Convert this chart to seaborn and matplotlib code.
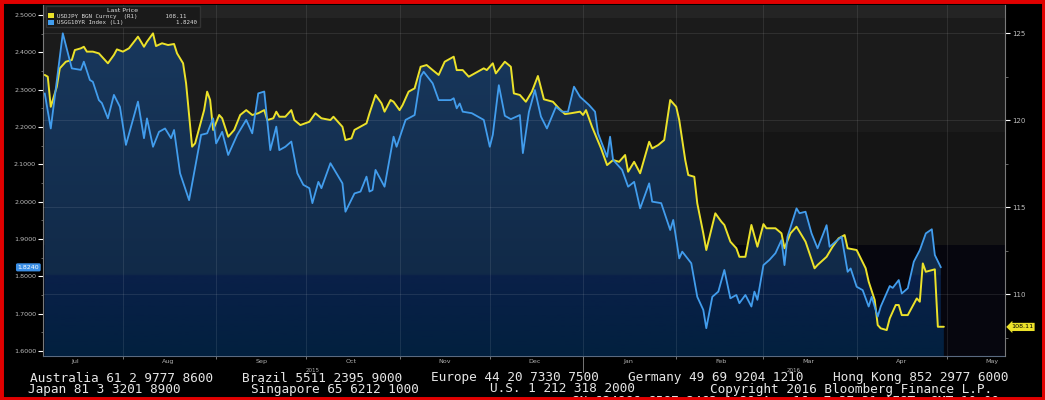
import numpy as np
import pandas as pd
import matplotlib
matplotlib.use("Agg")
import matplotlib.pyplot as plt
import matplotlib.dates as mdates
from matplotlib.colors import LinearSegmentedColormap
from matplotlib.patches import Patch, Rectangle
from matplotlib.ticker import FixedLocator, MultipleLocator, FormatStrFormatter
from matplotlib.transforms import blended_transform_factory
import seaborn as sns

sns.set_style("dark")
plt.rcParams["font.family"] = ["DejaVu Sans"]

# USGG10YR Index (left axis, %)
ust_dates = [
    "2015-07-06", "2015-07-08", "2015-07-12", "2015-07-15", "2015-07-18", "2015-07-19",
    "2015-07-21", "2015-07-22", "2015-07-24", "2015-07-25", "2015-07-27", "2015-07-29",
    "2015-07-31", "2015-08-02", "2015-08-06", "2015-08-08", "2015-08-09", "2015-08-11",
    "2015-08-13", "2015-08-15", "2015-08-17", "2015-08-18", "2015-08-20", "2015-08-23",
    "2015-08-27", "2015-08-29", "2015-08-31", "2015-09-01", "2015-09-03", "2015-09-05",
    "2015-09-08", "2015-09-11", "2015-09-13", "2015-09-15", "2015-09-17", "2015-09-19",
    "2015-09-21", "2015-09-22", "2015-09-24", "2015-09-26", "2015-09-28", "2015-09-30",
    "2015-10-02", "2015-10-03", "2015-10-05", "2015-10-06", "2015-10-09", "2015-10-13",
    "2015-10-14", "2015-10-17", "2015-10-19", "2015-10-21", "2015-10-22", "2015-10-23",
    "2015-10-24", "2015-10-27", "2015-10-30", "2015-10-31", "2015-11-03", "2015-11-06",
    "2015-11-08", "2015-11-09", "2015-11-12", "2015-11-14", "2015-11-18", "2015-11-19",
    "2015-11-20", "2015-11-21", "2015-11-22", "2015-11-25", "2015-11-29", "2015-12-01",
    "2015-12-02", "2015-12-04", "2015-12-06", "2015-12-08", "2015-12-11", "2015-12-12",
    "2015-12-14", "2015-12-16", "2015-12-18", "2015-12-20", "2015-12-23", "2015-12-25",
    "2015-12-27", "2015-12-29", "2015-12-31", "2016-01-03", "2016-01-05", "2016-01-06",
    "2016-01-09", "2016-01-10", "2016-01-11", "2016-01-14", "2016-01-16", "2016-01-18",
    "2016-01-20", "2016-01-23", "2016-01-24", "2016-01-27", "2016-01-30", "2016-01-31",
    "2016-02-02", "2016-02-03", "2016-02-06", "2016-02-08", "2016-02-10", "2016-02-11",
    "2016-02-13", "2016-02-15", "2016-02-17", "2016-02-19", "2016-02-21", "2016-02-22",
    "2016-02-24", "2016-02-26", "2016-02-27", "2016-02-28", "2016-03-01", "2016-03-03",
    "2016-03-05", "2016-03-07", "2016-03-08", "2016-03-09", "2016-03-12", "2016-03-13",
    "2016-03-15", "2016-03-17", "2016-03-19", "2016-03-22", "2016-03-23", "2016-03-25",
    "2016-03-27", "2016-03-29", "2016-03-30", "2016-04-01", "2016-04-03", "2016-04-05",
    "2016-04-06", "2016-04-08", "2016-04-09", "2016-04-12", "2016-04-13", "2016-04-15",
    "2016-04-16", "2016-04-18", "2016-04-20", "2016-04-22", "2016-04-24", "2016-04-26",
    "2016-04-27", "2016-04-29",
]
ust_yield = [
    2.290, 2.196, 2.451, 2.357, 2.353, 2.375, 2.326, 2.321, 2.272, 2.264, 2.223, 2.286,
    2.254, 2.152, 2.268, 2.170, 2.223, 2.147, 2.187, 2.196, 2.170, 2.192, 2.076, 2.004,
    2.179, 2.183, 2.223, 2.156, 2.187, 2.125, 2.179, 2.219, 2.183, 2.290, 2.295, 2.138,
    2.201, 2.138, 2.147, 2.161, 2.076, 2.045, 2.036, 1.996, 2.053, 2.036, 2.103, 2.049,
    1.973, 2.022, 2.027, 2.067, 2.027, 2.031, 2.085, 2.040, 2.174, 2.147, 2.219, 2.232,
    2.335, 2.348, 2.317, 2.272, 2.272, 2.277, 2.250, 2.263, 2.241, 2.237, 2.219, 2.147,
    2.179, 2.312, 2.230, 2.221, 2.232, 2.130, 2.240, 2.299, 2.228, 2.196, 2.254, 2.241,
    2.241, 2.308, 2.281, 2.259, 2.241, 2.183, 2.120, 2.174, 2.112, 2.085, 2.040, 2.053,
    1.982, 2.049, 2.000, 1.996, 1.924, 1.951, 1.848, 1.866, 1.835, 1.745, 1.710, 1.661,
    1.745, 1.759, 1.817, 1.741, 1.750, 1.728, 1.750, 1.719, 1.759, 1.737, 1.830, 1.844,
    1.862, 1.897, 1.830, 1.906, 1.982, 1.969, 1.973, 1.915, 1.875, 1.937, 1.879, 1.893,
    1.906, 1.812, 1.821, 1.772, 1.763, 1.719, 1.745, 1.692, 1.719, 1.774, 1.769, 1.790,
    1.754, 1.768, 1.839, 1.870, 1.915, 1.926, 1.857, 1.824,
]

# USDJPY BGN Curncy (right axis)
jpy_dates = [
    "2015-07-06", "2015-07-07", "2015-07-08", "2015-07-10", "2015-07-11", "2015-07-13",
    "2015-07-15", "2015-07-16", "2015-07-18", "2015-07-19", "2015-07-20", "2015-07-22",
    "2015-07-24", "2015-07-27", "2015-07-29", "2015-07-30", "2015-08-01", "2015-08-03",
    "2015-08-06", "2015-08-08", "2015-08-09", "2015-08-11", "2015-08-12", "2015-08-14",
    "2015-08-16", "2015-08-18", "2015-08-19", "2015-08-21", "2015-08-22", "2015-08-24",
    "2015-08-25", "2015-08-28", "2015-08-29", "2015-08-30", "2015-08-31", "2015-09-02",
    "2015-09-03", "2015-09-05", "2015-09-07", "2015-09-09", "2015-09-11", "2015-09-13",
    "2015-09-15", "2015-09-17", "2015-09-18", "2015-09-20", "2015-09-21", "2015-09-22",
    "2015-09-24", "2015-09-26", "2015-09-27", "2015-09-29", "2015-10-02", "2015-10-04",
    "2015-10-06", "2015-10-09", "2015-10-10", "2015-10-13", "2015-10-14", "2015-10-16",
    "2015-10-17", "2015-10-21", "2015-10-22", "2015-10-24", "2015-10-26", "2015-10-27",
    "2015-10-29", "2015-10-30", "2015-11-01", "2015-11-02", "2015-11-04", "2015-11-06",
    "2015-11-08", "2015-11-10", "2015-11-12", "2015-11-14", "2015-11-16", "2015-11-19",
    "2015-11-20", "2015-11-22", "2015-11-24", "2015-11-26", "2015-11-29", "2015-11-30",
    "2015-12-02", "2015-12-03", "2015-12-06", "2015-12-08", "2015-12-09", "2015-12-11",
    "2015-12-13", "2015-12-15", "2015-12-17", "2015-12-19", "2015-12-22", "2015-12-24",
    "2015-12-26", "2015-12-28", "2015-12-31", "2016-01-01", "2016-01-02", "2016-01-04",
    "2016-01-07", "2016-01-09", "2016-01-11", "2016-01-13", "2016-01-15", "2016-01-16",
    "2016-01-18", "2016-01-20", "2016-01-23", "2016-01-24", "2016-01-26", "2016-01-28",
    "2016-01-30", "2016-02-01", "2016-02-02", "2016-02-04", "2016-02-05", "2016-02-07",
    "2016-02-08", "2016-02-10", "2016-02-11", "2016-02-14", "2016-02-16", "2016-02-17",
    "2016-02-19", "2016-02-21", "2016-02-22", "2016-02-24", "2016-02-26", "2016-02-28",
    "2016-03-01", "2016-03-02", "2016-03-05", "2016-03-07", "2016-03-08", "2016-03-10",
    "2016-03-12", "2016-03-15", "2016-03-18", "2016-03-19", "2016-03-22", "2016-03-24",
    "2016-03-26", "2016-03-28", "2016-03-29", "2016-04-01", "2016-04-04", "2016-04-05",
    "2016-04-07", "2016-04-08", "2016-04-09", "2016-04-11", "2016-04-12", "2016-04-14",
    "2016-04-15", "2016-04-16", "2016-04-18", "2016-04-21", "2016-04-22", "2016-04-23",
    "2016-04-24", "2016-04-27", "2016-04-28", "2016-04-30",
]
jpy_price = [
    122.59, 122.49, 120.76, 121.91, 122.97, 123.35, 123.45, 124.02, 124.12, 124.21,
    123.93, 123.93, 123.83, 123.26, 123.74, 124.06, 123.93, 124.12, 124.79, 124.21,
    124.50, 124.98, 124.25, 124.41, 124.31, 124.37, 123.83, 123.26, 122.11, 118.47,
    118.66, 120.57, 121.63, 121.15, 119.43, 120.29, 120.10, 119.04, 119.43, 120.29,
    120.57, 120.29, 120.39, 120.57, 120.00, 120.10, 120.48, 120.19, 120.19, 120.57,
    120.00, 119.71, 119.90, 120.39, 120.10, 120.00, 120.19, 119.61, 118.85, 118.95,
    119.43, 119.81, 120.39, 121.44, 120.96, 120.48, 121.15, 121.05, 120.57, 120.86,
    121.63, 121.82, 123.06, 123.16, 122.87, 122.59, 123.35, 123.64, 122.87, 122.87,
    122.49, 122.68, 122.97, 122.87, 123.26, 122.68, 123.35, 123.06, 121.53, 121.44,
    121.05, 121.63, 122.53, 121.19, 121.05, 120.67, 120.34, 120.39, 120.48, 120.29,
    120.57, 119.61, 118.37, 117.41, 117.70, 117.60, 117.99, 117.03, 117.60, 116.94,
    118.75, 118.37, 118.56, 118.85, 121.15, 120.76, 120.00, 117.70, 116.84, 116.74,
    115.21, 113.49, 112.53, 114.64, 114.16, 113.97, 113.01, 112.63, 112.14, 112.14,
    113.97, 112.72, 114.02, 113.78, 113.78, 113.49, 112.63, 113.49, 113.87, 113.01,
    111.48, 111.67, 112.14, 112.72, 113.20, 113.39, 112.63, 112.53, 111.48, 110.71,
    109.66, 108.22, 108.03, 107.93, 108.60, 109.37, 109.37, 108.79, 108.79, 109.75,
    109.56, 111.76, 111.28, 111.42, 108.12, 108.12,
]

left_ticks = [1.6, 1.7, 1.8, 1.9, 2.0, 2.1, 2.2, 2.3, 2.4, 2.5]
right_ticks = [110, 115, 120, 125]
last_ust = "1.8240"
last_jpy = "108.11"
legend_title = "Last Price"
legend_rows = [
    "USDJPY BGN Curncy  (R1)        108.11",
    "USGG10YR Index (L1)               1.8240",
]
footer_rows = [
    ["Australia 61 2 9777 8600", "Brazil 5511 2395 9000", "Europe 44 20 7330 7500",
     "Germany 49 69 9204 1210", "Hong Kong 852 2977 6000"],
    ["Japan 81 3 3201 8900", "Singapore 65 6212 1000", "U.S. 1 212 318 2000",
     "Copyright 2016 Bloomberg Finance L.P."],
    ["SN 624866 G587-2463-1 29-Apr-16  7:27:31 AEST  GMT+10:00"],
]
# layout: centre x (px) of each footer chunk, and y (px) of each row
footer_cx = [[121, 322, 515, 716, 921], [104, 335, 562, 851], [786]]
footer_cy = [378, 389, 401.5]

YELLOW = "#ece22a"
BLUE = "#429ded"

ust = pd.DataFrame({"date": pd.to_datetime(ust_dates), "yield": ust_yield})
jpy = pd.DataFrame({"date": pd.to_datetime(jpy_dates), "price": jpy_price})

W, H = 1045, 400
fig = plt.figure(figsize=(W / 100, H / 100), dpi=100, facecolor="black")
ax = fig.add_axes([43 / W, 44 / H, 962 / W, 351 / H])
ax_r = ax.twinx()
ax_b = ax.twinx()

# background bands of the plot area
ax.set_facecolor("#06060e")
for f0, f1, c in [(0.316, 0.638, "#151515"), (0.638, 0.963, "#1b1b1b"), (0.963, 1.0, "#242424")]:
    ax.add_patch(Rectangle((0, f0), 1, f1 - f0, transform=ax.transAxes,
                           facecolor=c, edgecolor="none", zorder=0))

# gradient fill under each series
fill_cmap = LinearSegmentedColormap.from_list(
    "bbg", [(0, "#02203f"), (0.229, "#0a2049"), (0.232, "#112a48"), (1, "#19395f")])
grad = np.linspace(0, 1, 400).reshape(-1, 1)


def gradient_fill(axis, x, y, floor):
    poly = axis.fill_between(x, y, floor, facecolor="none", edgecolor="none")
    im = axis.imshow(grad, cmap=fill_cmap, vmin=0, vmax=1, origin="lower", aspect="auto",
                     extent=(0, 1, 0, 1), transform=axis.transAxes, zorder=1)
    im.set_clip_path(poly.get_paths()[0], transform=axis.transData)


gradient_fill(ax, ust["date"], ust["yield"], 1.0)
gradient_fill(ax_r, jpy["date"], jpy["price"], 90)

# grid (drawn above fills, below lines)
for m in pd.date_range("2015-08-01", "2016-05-01", freq="MS"):
    ax_r.axvline(m, color="white", alpha=0.09, lw=0.8, zorder=1.5)
for t in right_ticks:
    ax_r.axhline(t, color="white", alpha=0.09, lw=0.8, zorder=1.5)

sns.lineplot(data=jpy, x="date", y="price", ax=ax_r, color=YELLOW, linewidth=1.4, zorder=2)
sns.lineplot(data=ust, x="date", y="yield", ax=ax_b, color=BLUE, linewidth=1.3, zorder=2)

x0, x1 = pd.Timestamp("2015-07-05 10:00"), pd.Timestamp("2016-05-20 08:00")
ax.set_xlim(x0, x1)
ax.set_ylim(1.5865, 2.5268)
ax_b.set_ylim(1.5865, 2.5268)
ax_r.set_ylim(106.44, 126.61)

for a in (ax, ax_r, ax_b):
    a.set_xlabel("")
    a.set_ylabel("")
    a.grid(False)
ax_b.set_axis_off()

# left axis
ax.yaxis.set_major_locator(FixedLocator(left_ticks))
ax.yaxis.set_minor_locator(MultipleLocator(0.05))
ax.yaxis.set_major_formatter(FormatStrFormatter("%.4f"))
ax.tick_params(axis="y", which="major", left=True, length=3.5, width=0.8, color="white",
               labelsize=4.6, labelcolor="#bdbdbd", pad=1.5)
ax.tick_params(axis="y", which="minor", left=True, length=1.8, width=0.6, color="#777777")

# right axis
ax_r.yaxis.set_major_locator(FixedLocator(right_ticks))
ax_r.yaxis.set_minor_locator(MultipleLocator(2.5))
ax_r.tick_params(axis="y", which="major", right=True, length=3.5, width=0.8, color="white",
                 labelsize=5, labelcolor="#bdbdbd", pad=1.5)
ax_r.tick_params(axis="y", which="minor", right=True, length=1.8, width=0.6, color="#777777")

# x axis: ticks at month starts, labels mid-month
ax.xaxis.set_major_locator(mdates.MonthLocator())
ax.xaxis.set_major_formatter(plt.NullFormatter())
ax.xaxis.set_minor_locator(mdates.MonthLocator(bymonthday=16))
ax.xaxis.set_minor_formatter(mdates.DateFormatter("%b"))
ax.tick_params(axis="x", which="major", bottom=True, length=2.5, width=0.6, color="#888888")
ax.tick_params(axis="x", which="minor", bottom=False, length=0, labelsize=4.6,
               labelcolor="#b0b0b0", pad=2.5)

jan1 = pd.Timestamp("2016-01-01")
bt = blended_transform_factory(ax.transData, ax.transAxes)
ax.plot([jan1, jan1], [0, -0.045], transform=bt, color="#888888", lw=0.6, clip_on=False)
ax.text(x0 + (jan1 - x0) / 2, -0.04, "2015", transform=bt, ha="center", va="center",
        fontsize=4, color="#b0b0b0")
ax.text(jan1 + (x1 - jan1) / 2, -0.04, "2016", transform=bt, ha="center", va="center",
        fontsize=4, color="#b0b0b0")

for a in (ax, ax_r):
    for s in a.spines.values():
        s.set_visible(False)
ax.spines["left"].set_visible(True)
ax.spines["left"].set_color("#7a7a7a")
ax.spines["left"].set_linewidth(0.8)
ax.spines["bottom"].set_visible(True)
ax.spines["bottom"].set_color("#5a6a80")
ax.spines["bottom"].set_linewidth(0.8)
ax_r.spines["right"].set_visible(True)
ax_r.spines["right"].set_color("#7a7a7a")
ax_r.spines["right"].set_linewidth(0.8)

# last price tags
ax.text(-0.004, float(last_ust), last_ust,
        transform=blended_transform_factory(ax.transAxes, ax.transData),
        ha="right", va="center", fontsize=4.5, color="white", zorder=10, clip_on=False,
        bbox=dict(boxstyle="round,pad=0.25", fc="#3b8fe6", ec="none"))
ax_r.text(1.006, float(last_jpy), last_jpy,
          transform=blended_transform_factory(ax_r.transAxes, ax_r.transData),
          ha="left", va="center", fontsize=4.6, color="black", zorder=10, clip_on=False,
          bbox=dict(boxstyle="larrow,pad=0.25", fc=YELLOW, ec="none"))

# legend
handles = [Patch(facecolor=YELLOW, edgecolor="none"), Patch(facecolor=BLUE, edgecolor="none")]
leg = ax_b.legend(handles, legend_rows, title=legend_title, loc="upper left",
                  bbox_to_anchor=(0.002, 1.0), prop={"family": "DejaVu Sans Mono", "size": 4.2},
                  title_fontsize=4.6, facecolor="#1a1a1a", edgecolor="#333333", framealpha=1,
                  fancybox=False, borderpad=0.35, handlelength=1.1, handleheight=0.9,
                  handletextpad=0.6, labelspacing=0.15, borderaxespad=0.1)
leg.get_title().set_color("#e0e0e0")
for t in leg.get_texts():
    t.set_color("#dcdcdc")
leg.set_zorder(20)

# footer
for row, xs, cy in zip(footer_rows, footer_cx, footer_cy):
    for chunk, cx in zip(row, xs):
        fig.text(cx / W, 1 - cy / H, chunk, family="DejaVu Sans Mono", fontsize=9.2,
                 color="#e6e6e6", va="center", ha="center")

fig.add_artist(Rectangle((0, 0), 1, 1, transform=fig.transFigure, fill=False,
                         edgecolor="#e00000", linewidth=5, zorder=100))

fig.savefig("out.png", dpi=100, facecolor="black")
